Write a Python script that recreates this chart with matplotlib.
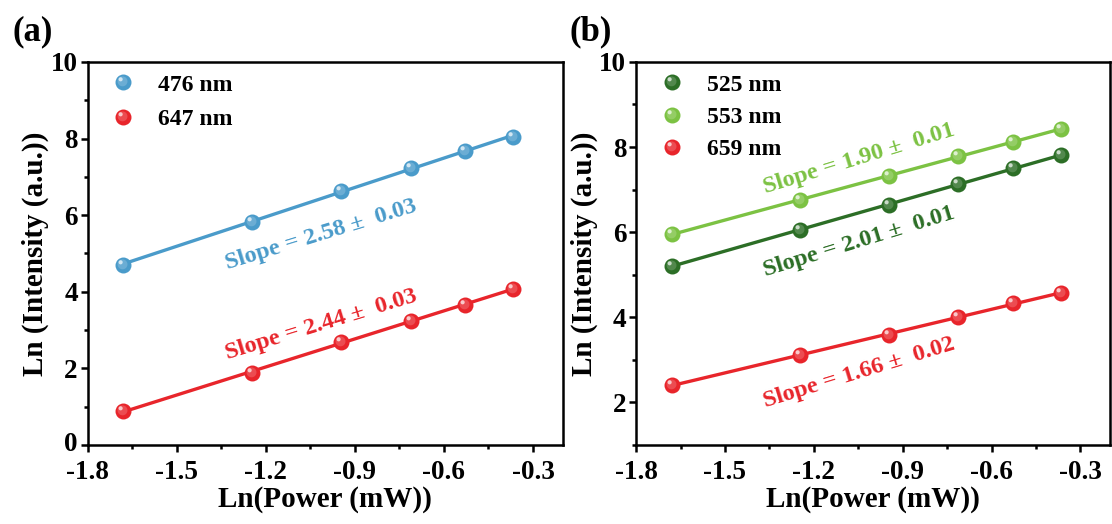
import numpy as np
import matplotlib
matplotlib.use('Agg')
import matplotlib.pyplot as plt
from matplotlib.path import Path
from matplotlib.transforms import ScaledTranslation
from matplotlib.legend_handler import HandlerTuple

plt.rcParams['font.family'] = 'Liberation Serif'
plt.rcParams['font.weight'] = 'bold'
plt.rcParams['axes.labelweight'] = 'bold'

# ln(power) values, same for all series
ln_power = [-1.68, -1.246, -0.945, -0.712, -0.529, -0.366]

# panel (a)
int_476 = [4.71, 5.83, 6.64, 7.22, 7.68, 8.05]
int_647 = [0.88, 1.87, 2.70, 3.24, 3.66, 4.07]
# panel (b)
int_525 = [5.21, 6.05, 6.64, 7.13, 7.50, 7.81]
int_553 = [5.95, 6.76, 7.32, 7.78, 8.13, 8.42]
int_659 = [2.40, 3.12, 3.59, 4.00, 4.33, 4.57]

labels_a = ['476 nm', '647 nm']
labels_b = ['525 nm', '553 nm', '659 nm']
slopes_a = ['Slope = 2.58 \u00b1  0.03', 'Slope = 2.44 \u00b1  0.03']
slopes_b = ['Slope = 2.01 \u00b1  0.01', 'Slope = 1.90 \u00b1  0.01', 'Slope = 1.66 \u00b1  0.02']

blue = '#4a9bca'
red = '#e8252b'
dgreen = '#2c6e26'
lgreen = '#7cc243'

TICK_FS = 19.5
LABEL_FS = 21
SLOPE_FS = 17.5
LEG_FS = 17


def circle_marker(cx, cy, r):
    # offset circle, with two bare moveto points so marker scaling stays fixed
    t = np.linspace(0, 2 * np.pi, 40)
    verts = list(zip(cx + r * np.cos(t), cy + r * np.sin(t)))
    codes = [Path.MOVETO] + [Path.LINETO] * (len(verts) - 2) + [Path.CLOSEPOLY]
    verts += [(1, 1), (-1, -1)]
    codes += [Path.MOVETO, Path.MOVETO]
    return Path(verts, codes)


mid_mk = circle_marker(-0.12, 0.14, 0.62)
spot_mk = circle_marker(-0.36, 0.40, 0.26)


def lighten(c, f):
    rgb = np.array(matplotlib.colors.to_rgb(c))
    return tuple(rgb + (1 - rgb) * f)


def sphere(ax, x, y, color, ms=11.5):
    base, = ax.plot(x, y, 'o', ms=ms, color=color, mec=color, mew=0, zorder=4)
    mid, = ax.plot(x, y, ls='none', marker=mid_mk, ms=ms, color=lighten(color, 0.18), mew=0, zorder=5)
    spot, = ax.plot(x, y, ls='none', marker=spot_mk, ms=ms, color=lighten(color, 0.75), mew=0, zorder=6)
    return (base, mid, spot)


def series(ax, x, y, color):
    k, b = np.polyfit(x, y, 1)
    xx = np.array([x[0], x[-1]])
    ax.plot(xx, k * xx + b, color=color, lw=2.4, zorder=3)
    return sphere(ax, x, y, color)


def style(ax, ylim):
    ax.set_xlim(-1.8, -0.2)
    ax.set_xticks(np.arange(-1.8, -0.25, 0.3))
    ax.set_xticklabels(['-1.8', '-1.5', '-1.2', '-0.9', '-0.6', '-0.3'])
    ax.set_xticks(np.arange(-1.65, -0.2, 0.3), minor=True)
    ax.set_yticks(np.arange(0, 10.1, 2))
    ax.set_yticks(np.arange(1, 10, 2), minor=True)
    ax.set_ylim(*ylim)
    for s in ax.spines.values():
        s.set_linewidth(1.8)
    ax.tick_params(which='major', direction='out', length=5, width=1.8, labelsize=TICK_FS)
    ax.tick_params(axis='y', which='major', pad=2)
    ax.tick_params(axis='x', which='major', pad=6)
    ax.tick_params(which='minor', direction='out', length=3, width=1.8)
    ax.set_xlabel('Ln(Power (mW))', fontsize=LABEL_FS, labelpad=0.5)
    ax.set_ylabel('Ln (Intensity (a.u.))', fontsize=LABEL_FS, labelpad=1)


def slope_text(ax, x, y, s, color):
    ax.text(x, y, s, transform=ax.transAxes, color=color, fontsize=SLOPE_FS,
            rotation=17, ha='center', va='center')


fig = plt.figure(figsize=(11.12, 5.24), dpi=100)
ax1 = fig.add_axes([0.0787, 0.1508, 0.4273, 0.731])
ax2 = fig.add_axes([0.572, 0.1508, 0.4263, 0.731])

h476 = series(ax1, ln_power, int_476, blue)
h647 = series(ax1, ln_power, int_647, red)
style(ax1, (0, 10))
slope_text(ax1, 0.491, 0.548, slopes_a[0], blue)
slope_text(ax1, 0.491, 0.313, slopes_a[1], red)
ax1.legend([h476, h647], labels_a, handler_map={tuple: HandlerTuple(ndivide=1)},
           loc='upper left', bbox_to_anchor=(0.05, 0.968), frameon=False, fontsize=LEG_FS,
           handlelength=1.0, handletextpad=1.0, labelspacing=0.55, borderpad=0, borderaxespad=0)

# nudge the "0" label up a little so it clears the "-1.8" below it
zero_lbl = ax1.yaxis.get_major_ticks()[0].label1
zero_lbl.set_transform(zero_lbl.get_transform() + ScaledTranslation(0, 3 / 100, fig.dpi_scale_trans))

h525 = series(ax2, ln_power, int_525, dgreen)
h553 = series(ax2, ln_power, int_553, lgreen)
h659 = series(ax2, ln_power, int_659, red)
style(ax2, (1, 10))
slope_text(ax2, 0.470, 0.530, slopes_b[0], dgreen)
slope_text(ax2, 0.470, 0.747, slopes_b[1], lgreen)
slope_text(ax2, 0.470, 0.188, slopes_b[2], red)
ax2.legend([h525, h553, h659], labels_b, handler_map={tuple: HandlerTuple(ndivide=1)},
           loc='upper left', bbox_to_anchor=(0.05, 0.968), frameon=False, fontsize=LEG_FS,
           handlelength=1.0, handletextpad=1.0, labelspacing=0.45, borderpad=0, borderaxespad=0)

fig.text(0.011, 0.94, '(a)', fontsize=25, ha='left', va='center')
fig.text(0.512, 0.94, '(b)', fontsize=25, ha='left', va='center')

fig.savefig('out.png', dpi=100)
